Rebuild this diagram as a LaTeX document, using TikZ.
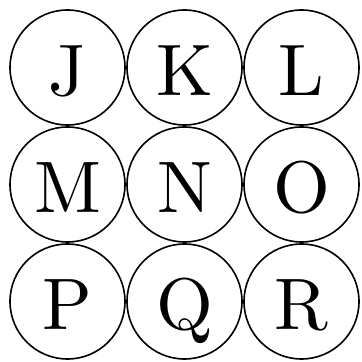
\documentclass[tikz,border=0pt]{standalone}
\usepackage{fontspec}
\usepackage{tikz}
\usetikzlibrary{positioning}
\newfontfamily\ballfont{lmroman10-regular}[Extension=.otf]

\begin{document}
\begin{tikzpicture}[x=1pt,y=1pt,
	letterball/.style={circle,draw,line width=1.6pt,minimum size=115pt,inner sep=0pt},
	balltext/.style={font=\ballfont\fontsize{73}{73}\selectfont,inner sep=0pt,
		text height=50pt,text depth=0pt}]
	\useasboundingbox (0,0) rectangle (362,362);
	\foreach \cx/\cy/\lb in{
		67.5/294.5/J, 184.5/294.5/K, 301.5/294.5/L,
		67.5/177.5/M, 184.5/177.5/N, 301.5/177.5/O,
		67.5/60.5/P, 184.5/60.5/Q, 301.5/60.5/R}
	{
		\node[letterball](\lb)at(\cx,\cy){};
		\node[balltext](t\lb)at([yshift=-3pt]\lb.center){\lb};
	}
\end{tikzpicture}
\end{document}
